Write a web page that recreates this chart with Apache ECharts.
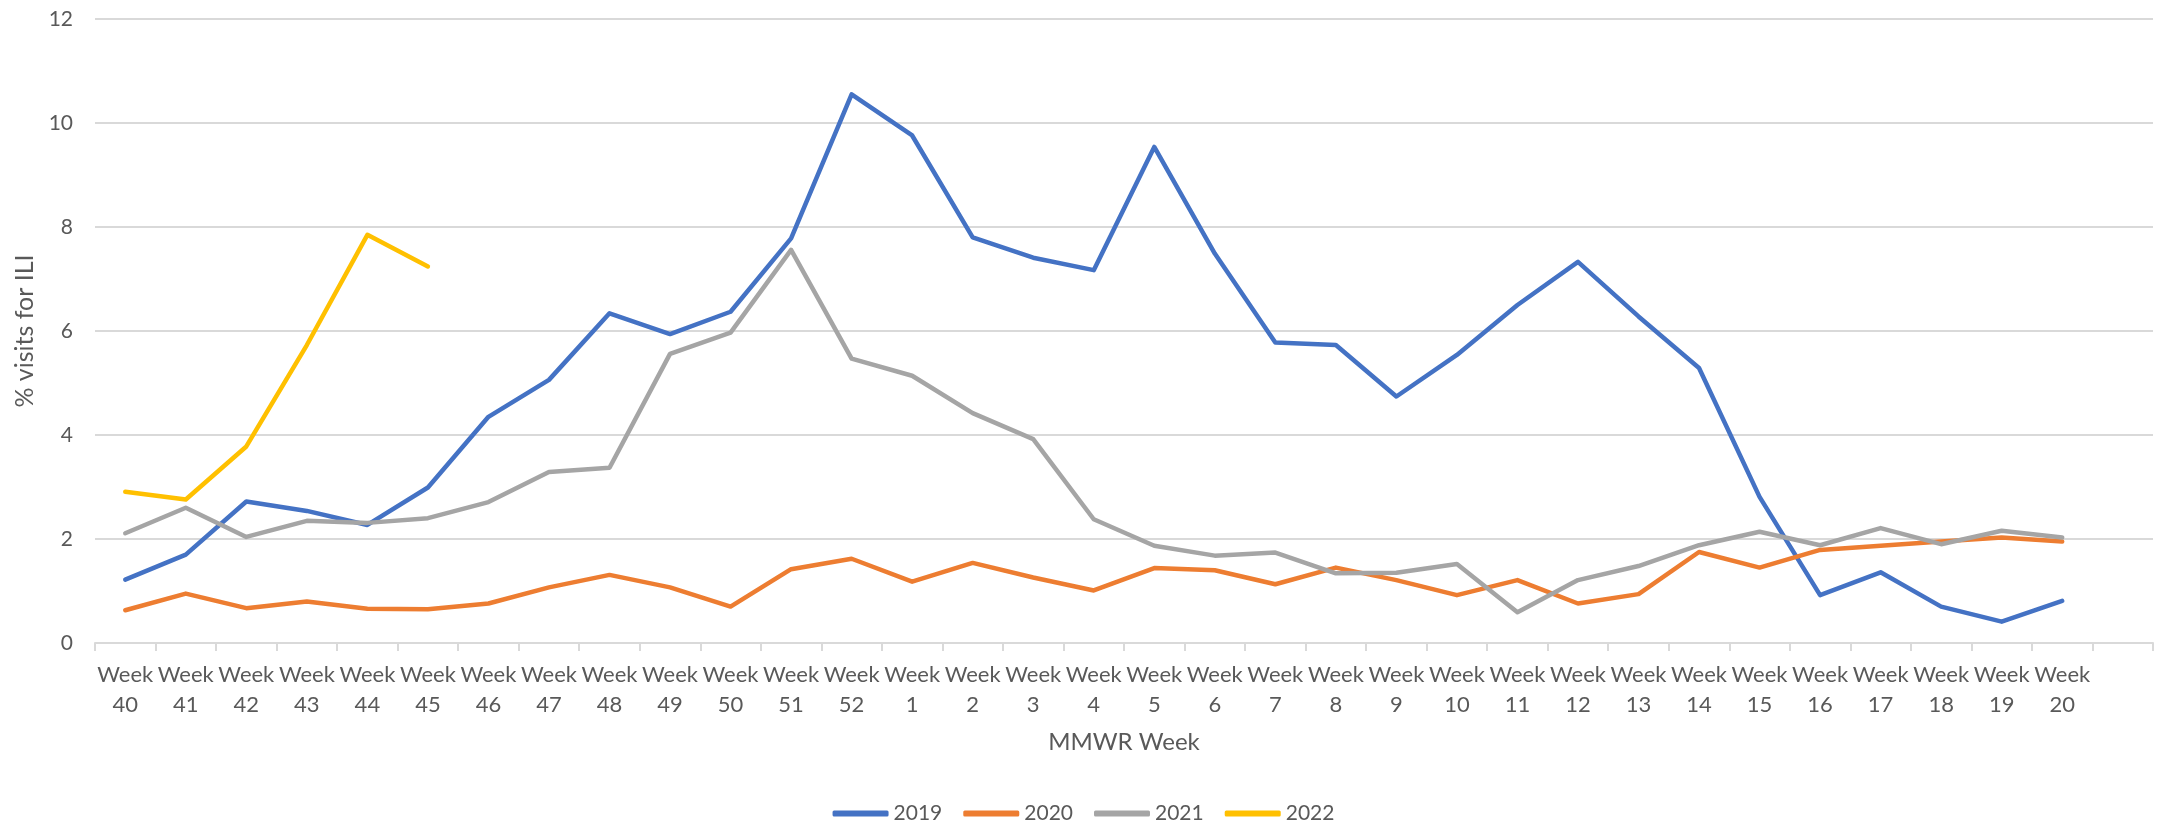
<!DOCTYPE html>
<html>
<head>
<meta charset="utf-8">
<title>% visits for ILI by MMWR week</title>
<script src="https://cdn.jsdelivr.net/npm/echarts@6/dist/echarts.min.js"></script>
<style>
  html, body { margin: 0; padding: 0; background: #fff; }
  #chart { width: 2167px; height: 825px; }
</style>
</head>
<body>
<div id="chart"></div>
<script>
// MMWR weeks 40..52, 1..20, plus one blank slot at the end (as in the original)
const weeks = ['40','41','42','43','44','45','46','47','48','49','50','51','52',
  '1','2','3','4','5','6','7','8','9','10','11','12','13','14','15','16','17','18','19','20',''];

const s2019 = [1.22, 1.70, 2.72, 2.54, 2.27, 2.99, 4.35, 5.06, 6.34, 5.94, 6.37, 7.78, 10.55,
  9.76, 7.80, 7.41, 7.17, 9.54, 7.49, 5.78, 5.73, 4.74, 5.54, 6.50, 7.33, 6.28, 5.29, 2.81,
  0.92, 1.36, 0.70, 0.41, 0.81];
const s2020 = [0.63, 0.95, 0.67, 0.80, 0.66, 0.65, 0.76, 1.07, 1.31, 1.07, 0.70, 1.42, 1.62,
  1.18, 1.54, 1.26, 1.01, 1.44, 1.40, 1.13, 1.45, 1.21, 0.92, 1.21, 0.76, 0.94, 1.75, 1.45,
  1.79, 1.87, 1.95, 2.03, 1.95];
const s2021 = [2.11, 2.60, 2.04, 2.35, 2.31, 2.40, 2.71, 3.29, 3.37, 5.56, 5.97, 7.56, 5.47,
  5.14, 4.42, 3.92, 2.38, 1.87, 1.68, 1.74, 1.34, 1.35, 1.52, 0.59, 1.21, 1.48, 1.88, 2.14,
  1.88, 2.21, 1.90, 2.16, 2.03];
const s2022 = [2.91, 2.76, 3.78, 5.73, 7.85, 7.24];

const yTicks = [0, 2, 4, 6, 8, 10, 12];

const seriesNames = ['2019', '2020', '2021', '2022'];
const colors = ['#4472C4', '#ED7D31', '#A5A5A5', '#FFC000'];
const seriesData = [s2019, s2020, s2021, s2022];

const chart = echarts.init(document.getElementById('chart'), null, { renderer: 'canvas' });
const txt = '#595959';
const font = 'Lato, "Open Sans", sans-serif';

const option = {
  animation: false,
  backgroundColor: '#ffffff',
  color: colors,
  textStyle: { fontFamily: font, color: txt },
  grid: { left: 95, right: 14, top: 19, bottom: 182, containLabel: false },
  legend: {
    data: seriesNames,
    bottom: -4,
    left: 'center',
    icon: 'roundRect',
    itemWidth: 56,
    itemHeight: 6,
    itemGap: 21,
    textStyle: { fontSize: 21, color: txt, fontFamily: font }
  },
  xAxis: {
    type: 'category',
    data: weeks.map(w => w === '' ? '' : 'Week\n' + w),
    boundaryGap: true,
    name: 'MMWR Week',
    nameLocation: 'middle',
    nameGap: 87,
    nameTextStyle: { fontSize: 24, color: txt, fontFamily: font },
    axisLine: { lineStyle: { color: '#D9D9D9', width: 2 } },
    axisTick: { show: true, length: 8, lineStyle: { color: '#D9D9D9', width: 2 } },
    axisLabel: { interval: 0, margin: 17, fontSize: 22, lineHeight: 30, color: txt, fontFamily: font },
    splitLine: { show: false }
  },
  yAxis: {
    type: 'value',
    min: yTicks[0],
    max: yTicks[yTicks.length - 1],
    interval: 2,
    name: '% visits for ILI',
    nameLocation: 'middle',
    nameRotate: 90,
    nameGap: 58,
    nameTextStyle: { fontSize: 25, color: txt, fontFamily: font },
    axisLine: { show: false },
    axisTick: { show: false },
    axisLabel: { margin: 22, fontSize: 21, color: txt, fontFamily: font },
    splitLine: { lineStyle: { color: '#D9D9D9', width: 2 } }
  },
  series: seriesNames.map((name, i) => ({
    name: name,
    type: 'line',
    data: seriesData[i],
    showSymbol: false,
    symbol: 'none',
    smooth: false,
    lineStyle: { color: colors[i], width: 4.5, cap: 'round', join: 'round' },
    itemStyle: { color: colors[i] }
  }))
};

chart.setOption(option);
</script>
</body>
</html>
